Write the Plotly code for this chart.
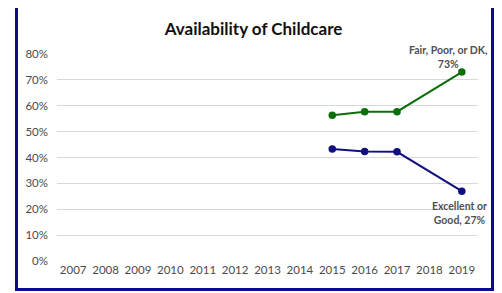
import plotly.graph_objects as go

years = [str(y) for y in range(2007, 2020)]
fair_years = ["2015", "2016", "2017", "2019"]
fair_vals = [0.563, 0.577, 0.577, 0.73]
exc_years = ["2015", "2016", "2017", "2019"]
exc_vals = [0.433, 0.423, 0.422, 0.27]
ytick_vals = [0, 0.1, 0.2, 0.3, 0.4, 0.5, 0.6, 0.7, 0.8]
ytick_text = ["0%", "10%", "20%", "30%", "40%", "50%", "60%", "70%", "80%"]

GREEN = "#0b6e0b"
BLUE = "#10107f"
FONT = "Lato, Open Sans, sans-serif"
GRAY = "#4a4a4a"
LBL = "#505050"

# page body has an 8px margin, so the figure is laid out in page coords minus 8
OFF = 8
W, H = 502 - OFF, 293 - OFF
L, R, T, B = 57 - OFF, 502 - 478, 54 - OFF, 293 - 261
pw, ph = W - L - R, H - T - B

def px_x(p):
    return (p - OFF - L) / pw

def px_y(p):
    return (H - B - (p - OFF)) / ph

fig = go.Figure()
fig.add_trace(go.Scatter(x=fair_years, y=fair_vals, mode="lines+markers",
                         line=dict(color=GREEN, width=2),
                         marker=dict(color=GREEN, size=7.5),
                         showlegend=False, hoverinfo="skip"))
fig.add_trace(go.Scatter(x=exc_years, y=exc_vals, mode="lines+markers",
                         line=dict(color=BLUE, width=2),
                         marker=dict(color=BLUE, size=7.5),
                         showlegend=False, hoverinfo="skip"))

fig.add_annotation(x=years.index(fair_years[-1]), y=fair_vals[-1],
                   text=f"<b>Fair, Poor, or DK,<br>{round(fair_vals[-1]*100)}%</b>",
                   showarrow=False, xanchor="center", yanchor="bottom",
                   xshift=-14, yshift=0, align="center",
                   font=dict(family=FONT, size=10.5, color=LBL))
fig.add_annotation(x=years.index(exc_years[-1]), y=exc_vals[-1],
                   text=f"<b>Excellent or<br>Good, {round(exc_vals[-1]*100)}%</b>",
                   showarrow=False, xanchor="center", yanchor="top",
                   xshift=-2, yshift=-7, align="center",
                   font=dict(family=FONT, size=10.5, color=LBL))

fig.add_shape(type="rect", xref="paper", yref="paper",
              x0=px_x(16.5), x1=px_x(492.5), y0=px_y(289.5), y1=px_y(5),
              line=dict(color="#0a0a8a", width=3), fillcolor="rgba(0,0,0,0)",
              layer="above")

fig.update_layout(
    width=W, height=H,
    margin=dict(l=L, r=R, t=T, b=B),
    paper_bgcolor="white", plot_bgcolor="white",
    title=dict(text="<b>Availability of Childcare</b>", x=(253.5 - OFF) / W, xref="container",
               xanchor="center", y=1 - (29 - OFF) / H, yref="container", yanchor="middle",
               font=dict(family=FONT, size=17, color="#111111")),
    font=dict(family=FONT, size=11.5, color=GRAY),
    xaxis=dict(type="category", categoryorder="array", categoryarray=years,
               tickvals=years, range=[-0.5, len(years) - 0.5],
               showgrid=False, zeroline=False, showline=False, ticks="",
               tickfont=dict(family=FONT, size=11.5, color=GRAY)),
    yaxis=dict(range=[0, 0.8], tickvals=ytick_vals, ticktext=ytick_text,
               showgrid=True, gridcolor="#d9d9d9", gridwidth=1,
               zeroline=False, showline=False, ticks="", ticklabelstandoff=8,
               tickfont=dict(family=FONT, size=11.5, color=GRAY)),
)

fig.write_html("out.html")
